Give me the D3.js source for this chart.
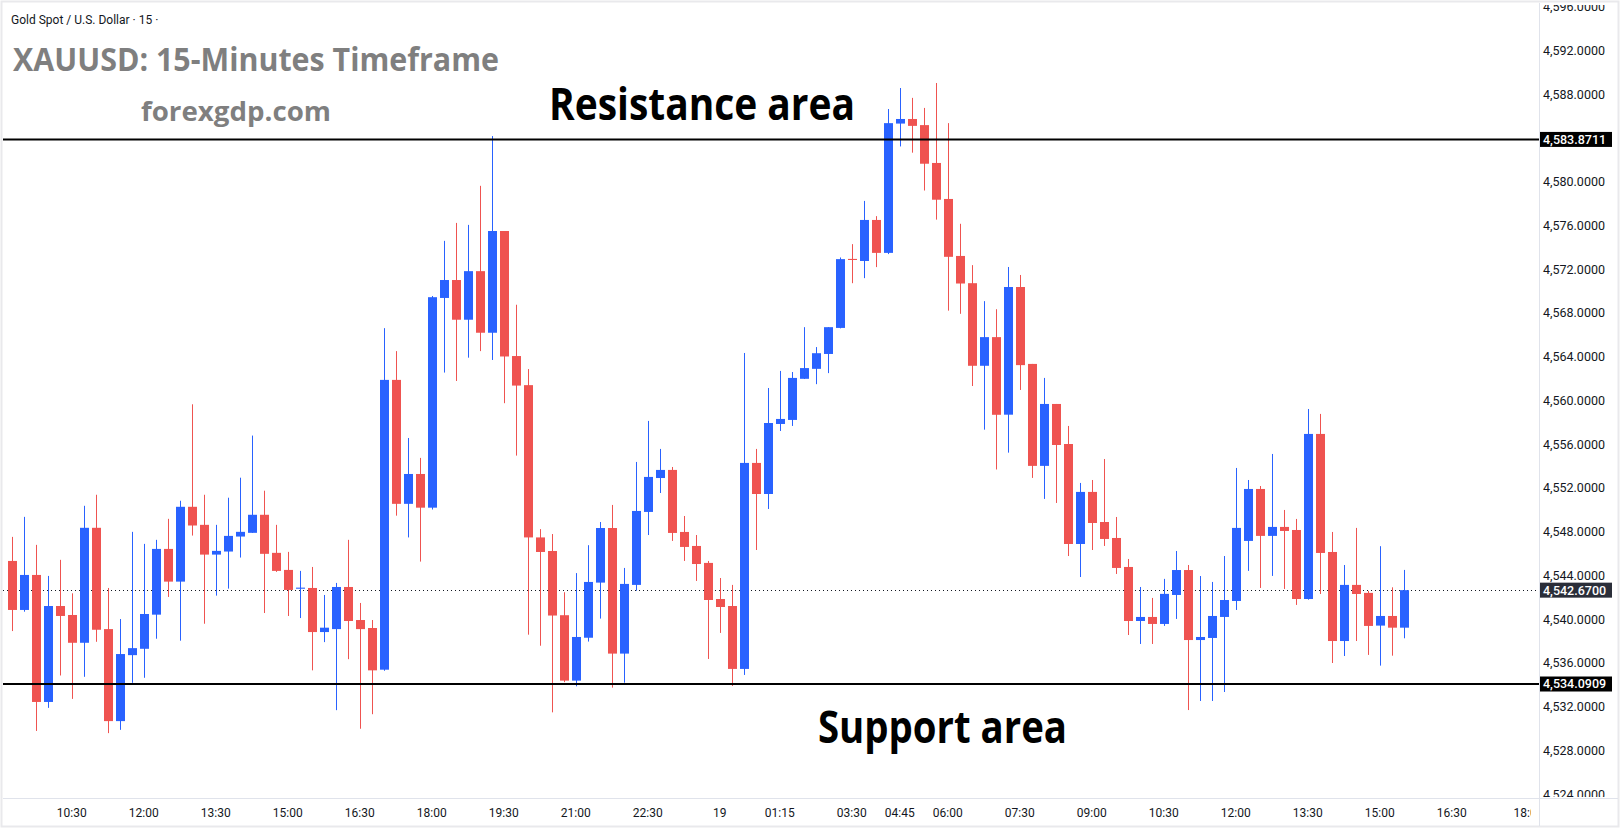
<!DOCTYPE html>
<html lang="en">
<head>
  <meta charset="UTF-8">
  <title>XAUUSD 15m</title>
  <script src="https://d3js.org/d3.v7.min.js"></script>
  <style>
    html, body { margin: 0; padding: 0; background: #fff; }
    svg { display: block; }
  </style>
</head>
<body>

  <script>
    ((window, document) => {
      "use strict";

      /**
       * -----------------------------------------------------------------------
       *  Data
       * -----------------------------------------------------------------------
       */
      const OPEN = [
        4545.34, 4540.86, 4544.06, 4532.45, 4541.22, 4540.40, 4537.86, 4548.37, 4539.11, 4530.70,
        4536.73, 4537.31, 4540.43, 4546.44, 4543.45, 4550.29, 4548.64, 4545.92, 4546.20, 4547.57,
        4547.91, 4549.56, 4546.08, 4544.52, 4542.80, 4542.87, 4538.84, 4539.11, 4542.96, 4539.94,
        4539.21, 4535.40, 4561.89, 4550.56, 4553.29, 4550.21, 4569.38, 4571.02, 4567.39, 4571.83,
        4566.20, 4575.50, 4564.07, 4561.41, 4547.49, 4546.25, 4540.38, 4534.40, 4538.32, 4543.36,
        4548.35, 4536.87, 4543.15, 4549.82, 4552.92, 4553.66, 4547.99, 4546.71, 4545.16, 4541.86,
        4541.22, 4535.47, 4554.30, 4551.46, 4557.86, 4558.23, 4561.99, 4562.90, 4564.26, 4566.64,
        4572.95, 4572.76, 4576.51, 4573.50, 4585.32, 4585.74, 4585.18, 4581.72, 4578.43, 4573.22,
        4570.73, 4563.18, 4565.80, 4558.71, 4570.38, 4563.35, 4554.03, 4559.69, 4556.03, 4546.89,
        4551.65, 4548.90, 4547.44, 4544.79, 4539.85, 4540.22, 4539.58, 4542.23, 4544.51, 4538.11,
        4538.30, 4540.22, 4541.68, 4547.17, 4551.92, 4547.63, 4548.45, 4548.17, 4541.86, 4556.95,
        4546.16, 4538.02, 4543.15, 4542.42, 4539.43, 4540.31, 4539.24,
      ];
      const HIGH = [
        4547.54, 4549.37, 4546.81, 4543.97, 4545.44, 4542.38, 4550.38, 4551.39, 4542.87, 4540.03,
        4548.00, 4546.90, 4547.27, 4549.19, 4550.84, 4559.66, 4551.39, 4548.64, 4551.12, 4552.95,
        4556.80, 4551.76, 4548.64, 4546.17, 4544.43, 4544.79, 4542.23, 4543.33, 4547.27, 4541.50,
        4539.94, 4566.62, 4564.52, 4556.58, 4554.76, 4569.56, 4574.60, 4576.24, 4576.06, 4579.63,
        4584.18, 4575.50, 4568.76, 4562.88, 4548.25, 4547.80, 4542.48, 4544.23, 4546.78, 4548.90,
        4550.46, 4544.70, 4554.39, 4558.14, 4555.58, 4553.93, 4549.45, 4547.71, 4545.34, 4543.78,
        4543.15, 4564.35, 4555.58, 4561.15, 4562.71, 4562.61, 4566.71, 4564.89, 4566.71, 4573.08,
        4574.30, 4578.25, 4576.86, 4586.65, 4588.57, 4587.67, 4586.75, 4589.03, 4585.36, 4576.16,
        4572.38, 4569.09, 4568.35, 4572.21, 4571.48, 4563.35, 4562.07, 4559.69, 4557.68, 4552.47,
        4552.74, 4554.66, 4549.36, 4545.52, 4542.96, 4541.96, 4543.70, 4546.25, 4544.97, 4543.96,
        4543.42, 4545.79, 4553.84, 4552.74, 4552.19, 4555.12, 4550.00, 4549.18, 4559.23, 4558.78,
        4547.99, 4544.97, 4548.36, 4542.60, 4546.69, 4542.93, 4544.52,
      ];
      const LOW = [
        4538.93, 4540.70, 4529.80, 4531.91, 4534.87, 4532.73, 4534.75, 4537.95, 4529.60, 4529.90,
        4534.20, 4534.66, 4538.23, 4542.05, 4538.05, 4547.66, 4539.60, 4542.17, 4542.81, 4545.65,
        4547.91, 4540.58, 4544.34, 4540.31, 4540.12, 4535.34, 4537.92, 4531.70, 4536.36, 4530.00,
        4531.33, 4535.30, 4549.48, 4547.49, 4545.28, 4550.04, 4562.56, 4561.79, 4563.92, 4564.52,
        4563.71, 4559.76, 4554.97, 4538.60, 4537.59, 4531.50, 4534.26, 4533.88, 4537.97, 4540.07,
        4533.76, 4534.21, 4542.62, 4547.71, 4551.55, 4547.17, 4545.34, 4543.51, 4536.38, 4538.76,
        4533.91, 4534.92, 4546.34, 4550.09, 4557.22, 4557.68, 4561.97, 4561.50, 4562.51, 4566.60,
        4570.73, 4571.19, 4572.20, 4573.39, 4583.23, 4582.66, 4579.20, 4576.54, 4568.22, 4567.93,
        4561.33, 4557.34, 4553.70, 4555.24, 4560.97, 4552.93, 4551.01, 4550.64, 4545.79, 4543.87,
        4546.34, 4546.71, 4544.15, 4538.57, 4537.75, 4537.75, 4539.40, 4540.04, 4531.71, 4532.54,
        4532.54, 4533.36, 4540.86, 4544.43, 4542.87, 4543.97, 4542.78, 4541.32, 4541.80, 4542.32,
        4536.01, 4536.65, 4538.02, 4536.75, 4535.77, 4536.68, 4538.27,
      ];
      const CLOSE = [
        4540.86, 4544.06, 4532.45, 4541.22, 4540.31, 4537.86, 4548.37, 4539.05, 4530.70, 4536.83,
        4537.37, 4540.49, 4546.44, 4543.45, 4550.29, 4548.58, 4545.92, 4546.26, 4547.63, 4548.00,
        4549.56, 4545.99, 4544.43, 4542.69, 4542.90, 4538.84, 4539.24, 4542.96, 4539.85, 4539.11,
        4535.34, 4561.89, 4550.56, 4553.29, 4550.21, 4569.45, 4571.02, 4567.39, 4571.83, 4566.20,
        4575.50, 4564.03, 4561.37, 4547.49, 4546.16, 4540.35, 4534.40, 4538.39, 4543.42, 4548.35,
        4536.87, 4543.24, 4549.91, 4553.02, 4553.66, 4547.90, 4546.62, 4545.06, 4541.77, 4541.13,
        4535.47, 4554.30, 4551.46, 4557.95, 4558.32, 4562.07, 4562.97, 4564.33, 4566.71, 4572.93,
        4572.85, 4576.51, 4573.50, 4585.36, 4585.74, 4585.11, 4581.65, 4578.36, 4573.14, 4570.70,
        4563.18, 4565.80, 4558.70, 4570.38, 4563.24, 4554.03, 4559.69, 4555.94, 4546.89, 4551.65,
        4548.81, 4547.35, 4544.70, 4539.85, 4540.22, 4539.58, 4542.33, 4544.51, 4538.11, 4538.39,
        4540.31, 4541.77, 4548.36, 4551.92, 4547.63, 4548.45, 4548.08, 4541.86, 4556.95, 4546.07,
        4538.02, 4543.15, 4542.32, 4539.40, 4540.31, 4539.24, 4542.67,
      ];

      const PRICE_TICKS = [
        4524, 4528, 4532, 4536, 4540, 4544, 4548, 4552, 4556, 4560,
        4564, 4568, 4572, 4576, 4580, 4584, 4588, 4592, 4596,
      ];
      const TIME_TICK_INDEX = [
        5, 11, 17, 23, 29, 35, 41, 47, 53, 59, 64,
        70, 74, 78, 84, 90, 96, 102, 108, 114, 120, 126.4,
      ];
      const TIME_TICK_LABELS = [
        "10:30", "12:00", "13:30", "15:00", "16:30", "18:00", "19:30", "21:00", "22:30", "19", "01:15",
        "03:30", "04:45", "06:00", "07:30", "09:00", "10:30", "12:00", "13:30", "15:00", "16:30", "18:00",
      ];

      const RESISTANCE = 4583.8711;
      const SUPPORT = 4534.0909;
      const LAST_PRICE = 4542.67;


      /**
       * -----------------------------------------------------------------------
       *  Layout
       * -----------------------------------------------------------------------
       */
      const WIDTH = 1623;
      const HEIGHT = 830;
      const PANE_LEFT = 3;
      const PANE_RIGHT = 1539;
      const PANE_TOP = 3;
      const PANE_BOTTOM = 798;
      const UP_COLOR = "#2962ff";
      const DOWN_COLOR = "#ef5350";
      const UI_FONT = "Roboto, 'Liberation Sans', sans-serif";
      const BIG_FONT = "'Open Sans', 'Noto Sans', sans-serif";

      let candles = OPEN.map((o, i) => ({
        index: i, open: o, high: HIGH[i], low: LOW[i], close: CLOSE[i],
      }));

      let x = d3.scaleLinear().domain([0, 116]).range([11.7, 1403.7]);
      let y = d3.scaleLinear().domain([4524, 4592]).range([794.4, 50.5]);


      /**
       * -----------------------------------------------------------------------
       *  Render
       * -----------------------------------------------------------------------
       */
      let svg = d3.select("body").append("svg")
          .attr("width", WIDTH)
          .attr("height", HEIGHT);

      let defs = svg.append("defs");
      defs.append("clipPath").attr("id", "pane-clip")
        .append("rect")
          .attr("x", PANE_LEFT).attr("y", PANE_TOP)
          .attr("width", PANE_RIGHT - PANE_LEFT)
          .attr("height", PANE_BOTTOM - PANE_TOP);
      defs.append("clipPath").attr("id", "price-clip")
        .append("rect")
          .attr("x", PANE_RIGHT).attr("y", 5)
          .attr("width", WIDTH - PANE_RIGHT)
          .attr("height", PANE_BOTTOM - 6);
      // the last time label is cut short before the price scale
      defs.append("clipPath").attr("id", "time-clip")
        .append("rect")
          .attr("x", PANE_LEFT).attr("y", PANE_BOTTOM)
          .attr("width", 1531 - PANE_LEFT)
          .attr("height", HEIGHT - PANE_BOTTOM);

      // outer frame + axis separators
      svg.append("rect")
          .attr("x", 1.5).attr("y", 1.5)
          .attr("width", WIDTH - 6).attr("height", HEIGHT - 5)
          .attr("fill", "#fff")
          .attr("stroke", "#e9e9ec")
          .attr("stroke-width", 2);
      svg.append("line")
          .attr("x1", PANE_RIGHT + 0.5).attr("x2", PANE_RIGHT + 0.5)
          .attr("y1", PANE_TOP).attr("y2", HEIGHT - 4)
          .attr("stroke", "#e0e3eb");
      svg.append("line")
          .attr("x1", PANE_LEFT).attr("x2", WIDTH - 5)
          .attr("y1", PANE_BOTTOM + 0.5).attr("y2", PANE_BOTTOM + 0.5)
          .attr("stroke", "#e0e3eb");

      let pane = svg.append("g").attr("clip-path", "url(#pane-clip)");

      // last price dotted line
      pane.append("line")
          .attr("x1", PANE_LEFT).attr("x2", PANE_RIGHT)
          .attr("y1", Math.round(y(LAST_PRICE)) + 0.5)
          .attr("y2", Math.round(y(LAST_PRICE)) + 0.5)
          .attr("stroke", "#131722")
          .attr("stroke-dasharray", "1,3");

      // candles
      let g = pane.selectAll("g.candle").data(candles).enter().append("g")
          .attr("class", "candle")
          .attr("fill", d => d.close >= d.open ? UP_COLOR : DOWN_COLOR)
          .attr("stroke", d => d.close >= d.open ? UP_COLOR : DOWN_COLOR);
      g.append("line")
          .attr("x1", d => Math.round(x(d.index)) + 0.5)
          .attr("x2", d => Math.round(x(d.index)) + 0.5)
          .attr("y1", d => y(d.high))
          .attr("y2", d => y(d.low))
          .attr("stroke-width", 1);
      g.append("rect")
          .attr("x", d => Math.round(x(d.index)) - 4)
          .attr("y", d => y(Math.max(d.open, d.close)))
          .attr("width", 9)
          .attr("height", d => Math.max(1, Math.abs(y(d.open) - y(d.close))))
          .attr("stroke", "none");

      // support / resistance
      [RESISTANCE, SUPPORT].forEach(level => {
        svg.append("line")
            .attr("x1", PANE_LEFT).attr("x2", PANE_RIGHT)
            .attr("y1", y(level)).attr("y2", y(level))
            .attr("stroke", "#000")
            .attr("stroke-width", 2);
      });

      // header texts
      svg.append("text")
          .attr("x", 11).attr("y", 23.5)
          .attr("font-family", UI_FONT)
          .attr("font-size", 12)
          .attr("fill", "#131722")
          .text("Gold Spot / U.S. Dollar · 15 ·");

      let bigText = (txt, tx, ty, size, len, color) => svg.append("text")
          .attr("x", tx).attr("y", ty)
          .attr("font-family", BIG_FONT)
          .attr("font-weight", 700)
          .attr("font-size", size)
          .attr("fill", color)
          .attr("textLength", len)
          .attr("lengthAdjust", "spacingAndGlyphs")
          .text(txt);
      bigText("XAUUSD: 15-Minutes Timeframe", 13, 70.5, 33, 486, "#7f7f7f");
      bigText("forexgdp.com", 141, 120.5, 27, 190, "#7f7f7f");
      bigText("Resistance area", 549, 119.5, 45, 306, "#000");
      bigText("Support area", 818, 743, 45, 249, "#000");

      // price axis
      let priceAxis = svg.append("g").attr("clip-path", "url(#price-clip)");
      priceAxis.selectAll("text.tick").data(PRICE_TICKS).enter().append("text")
          .attr("class", "tick")
          .attr("x", 1543)
          .attr("y", d => y(d))
          .attr("dy", "0.35em")
          .attr("font-family", UI_FONT)
          .attr("font-size", 12.5)
          .attr("fill", "#131722")
          .text(d3.format(",.4f"));

      let priceBadge = (value, fill) => {
        let cy = y(value);
        priceAxis.append("rect")
            .attr("x", 1540).attr("y", cy - 7.5)
            .attr("width", 72).attr("height", 15)
            .attr("fill", fill);
        priceAxis.append("text")
            .attr("x", 1543).attr("y", cy)
            .attr("dy", "0.35em")
            .attr("font-family", UI_FONT)
            .attr("font-size", 12.5)
            .attr("font-weight", 500)
            .attr("fill", "#fff")
            .text(d3.format(",.4f")(value));
      };
      priceBadge(RESISTANCE, "#000");
      priceBadge(SUPPORT, "#000");
      priceBadge(LAST_PRICE, "#2a2e39");

      // time axis
      let timeAxis = svg.append("g").attr("clip-path", "url(#time-clip)");
      timeAxis.selectAll("text").data(TIME_TICK_INDEX).enter().append("text")
          .attr("x", d => x(d))
          .attr("y", 813)
          .attr("dy", "0.35em")
          .attr("text-anchor", "middle")
          .attr("font-family", UI_FONT)
          .attr("font-size", 12)
          .attr("fill", "#131722")
          .text((d, i) => TIME_TICK_LABELS[i]);

    })(window, document);
  </script>

</body>
</html>
